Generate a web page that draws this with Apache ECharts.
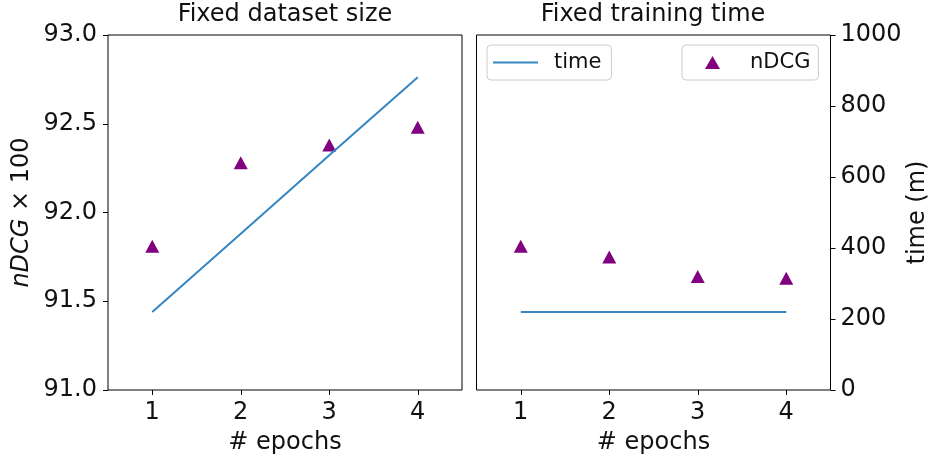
<!DOCTYPE html>
<html>
<head>
<meta charset="utf-8">
<script src="https://cdn.jsdelivr.net/npm/echarts@6/dist/echarts.min.js"></script>
<style>
html,body{margin:0;padding:0;background:#fff;}
#chart{width:930px;height:457px;}
</style>
</head>
<body>
<div id="chart"></div>
<script>
var epochs = ['1', '2', '3', '4'];
var ndcgFixedSize = [91.81, 92.28, 92.38, 92.48];
var timeFixedSize = [220, 440, 661, 881];
var ndcgFixedTime = [91.81, 91.75, 91.64, 91.63];
var timeFixedTime = [220, 220, 220, 220];
var titles = ['Fixed dataset size', 'Fixed training time'];
var ndcgRange = [91, 93, 0.5];
var timeRange = [0, 1000, 200];

var FONT = 'DejaVu Sans';
var BLUE = '#3586c1';
var PURPLE = '#800080';
var TXT = '#111';

var chart = echarts.init(document.getElementById('chart'), null, {renderer: 'canvas'});

function xAx(gi) {
  return {
    type: 'category', gridIndex: gi, data: epochs, boundaryGap: true,
    name: '# epochs', nameLocation: 'middle', nameGap: 41,
    nameTextStyle: {fontFamily: FONT, fontSize: 24, color: TXT},
    axisLine: {show: false},
    axisTick: {show: true, alignWithLabel: true, length: 5, lineStyle: {color: '#000', width: 1}},
    axisLabel: {fontFamily: FONT, fontSize: 24, color: TXT, margin: 11},
    splitLine: {show: false}
  };
}

var option = {
  animation: false,
  backgroundColor: '#fff',
  title: [
    {text: titles[0], left: 285, textAlign: 'center', top: 3, padding: 0,
     textStyle: {fontFamily: FONT, fontSize: 24, fontWeight: 'normal', color: TXT}},
    {text: titles[1], left: 653, textAlign: 'center', top: 3, padding: 0,
     textStyle: {fontFamily: FONT, fontSize: 24, fontWeight: 'normal', color: TXT}}
  ],
  grid: [
    {left: 108, top: 35, width: 354, height: 355, show: true, borderColor: '#000', borderWidth: 1,
     backgroundColor: 'transparent', containLabel: false, outerBoundsMode: 'none'},
    {left: 476.5, top: 35, width: 354, height: 355, show: true, borderColor: '#000', borderWidth: 1,
     backgroundColor: 'transparent', containLabel: false, outerBoundsMode: 'none'}
  ],
  legend: [
    {data: [{name: 'time', icon: 'rect'}], left: 487, top: 45, orient: 'horizontal',
     itemWidth: 45, itemHeight: 2, selectedMode: false,
     padding: [7, 10, 7, 6], borderColor: '#cccccc', borderWidth: 1, borderRadius: 4,
     textStyle: {fontFamily: FONT, fontSize: 21, color: TXT, padding: [0, 0, 0, 11]}},
    {data: [{name: 'nDCG', icon: 'triangle'}], left: 682, top: 45, orient: 'horizontal',
     itemWidth: 15, itemHeight: 13, selectedMode: false,
     padding: [7, 8, 7, 23], borderColor: '#cccccc', borderWidth: 1, borderRadius: 4,
     textStyle: {fontFamily: FONT, fontSize: 21, color: TXT, padding: [0, 0, 0, 25]}}
  ],
  xAxis: [xAx(0), xAx(1)],
  yAxis: [
    {type: 'value', gridIndex: 0, min: ndcgRange[0], max: ndcgRange[1], interval: ndcgRange[2],
     name: '{i|nDCG} × 100', nameLocation: 'middle', nameGap: 74, nameRotate: 90,
     nameTextStyle: {fontFamily: FONT, fontSize: 24, color: TXT,
       rich: {i: {fontFamily: FONT, fontSize: 24, fontStyle: 'italic', color: TXT}}},
     axisLine: {show: false},
     axisTick: {show: true, length: 5, lineStyle: {color: '#000', width: 1}},
     axisLabel: {fontFamily: FONT, fontSize: 24, color: TXT, margin: 11, padding: [5, 0, 0, 0],
       formatter: function (v) { return v.toFixed(1); }},
     splitLine: {show: false}},
    {type: 'value', gridIndex: 0, min: timeRange[0], max: timeRange[1], interval: timeRange[2],
     position: 'right', show: false, splitLine: {show: false}},
    {type: 'value', gridIndex: 1, min: ndcgRange[0], max: ndcgRange[1], interval: ndcgRange[2],
     show: false, splitLine: {show: false}},
    {type: 'value', gridIndex: 1, min: timeRange[0], max: timeRange[1], interval: timeRange[2],
     position: 'right',
     name: 'time (m)', nameLocation: 'middle', nameGap: 72, nameRotate: 90,
     nameTextStyle: {fontFamily: FONT, fontSize: 24, color: TXT},
     axisLine: {show: false},
     axisTick: {show: true, length: 5, lineStyle: {color: '#000', width: 1}},
     axisLabel: {fontFamily: FONT, fontSize: 24, color: TXT, margin: 10, padding: [5, 0, 0, 0],
       formatter: function (v) { return String(v); }},
     splitLine: {show: false}}
  ],
  series: [
    {name: 'nDCG', type: 'scatter', xAxisIndex: 0, yAxisIndex: 0, data: ndcgFixedSize,
     symbol: 'triangle', symbolSize: [14, 13], itemStyle: {color: PURPLE, opacity: 1}, z: 3},
    {name: 'time', type: 'line', xAxisIndex: 0, yAxisIndex: 1, data: timeFixedSize,
     showSymbol: false, symbol: 'none', lineStyle: {color: BLUE, width: 2}, itemStyle: {color: BLUE}, z: 4},
    {name: 'nDCG', type: 'scatter', xAxisIndex: 1, yAxisIndex: 2, data: ndcgFixedTime,
     symbol: 'triangle', symbolSize: [14, 13], itemStyle: {color: PURPLE, opacity: 1}, z: 3},
    {name: 'time', type: 'line', xAxisIndex: 1, yAxisIndex: 3, data: timeFixedTime,
     showSymbol: false, symbol: 'none', lineStyle: {color: BLUE, width: 2}, itemStyle: {color: BLUE}, z: 4}
  ]
};
chart.setOption(option);
</script>
</body>
</html>
